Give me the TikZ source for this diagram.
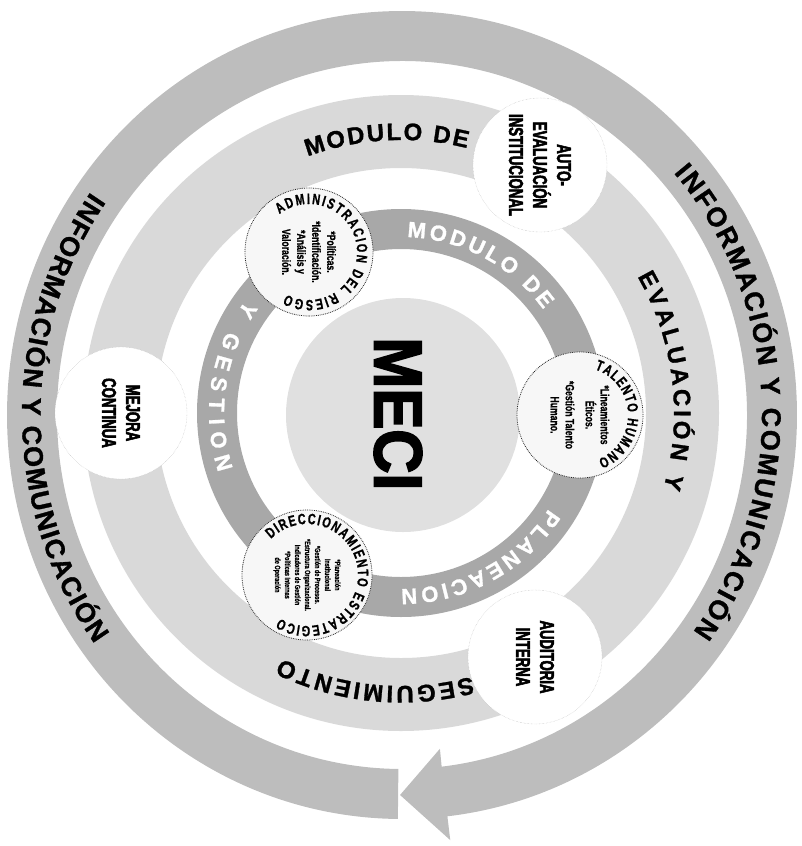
\documentclass[tikz,border=0pt]{standalone}
\usepackage{fontspec}
\setmainfont{Liberation Sans}
\newfontfamily\condfont[FakeStretch=0.72,FakeBold=0.8]{Liberation Sans}
\newfontfamily\impactfont[FakeStretch=0.66,FakeBold=2.6]{Liberation Sans}
\newfontfamily\heavyfont[FakeBold=1.2]{Liberation Sans}
\newfontfamily\mecifont[FakeStretch=0.9,FakeBold=2.5]{Liberation Sans}
\usetikzlibrary{decorations.text}

\definecolor{ringgray}{gray}{0.74}
\definecolor{bandgray}{gray}{0.85}
\definecolor{planeagray}{gray}{0.66}
\definecolor{coregray}{gray}{0.88}

\newcommand\infofont{\heavyfont\bfseries\fontsize{27}{27}\selectfont}
\newcommand\bandfont{\heavyfont\bfseries\fontsize{24}{24}\selectfont}
\newcommand\ringfont{\heavyfont\bfseries\fontsize{22}{22}\selectfont}
\newcommand\tagfont{\condfont\bfseries\fontsize{15}{15}\selectfont}

\begin{document}
\begin{tikzpicture}[x=1pt, y=1pt,
    bigcirc/.style={circle, draw=gray!55, densely dotted, fill=white, minimum size=134pt, inner sep=0pt, align=center, rotate=-90, font=\impactfont\bfseries\fontsize{20}{24}\selectfont},
    smallcirc/.style={circle, draw=black!85, densely dotted, thick, fill=gray!6, minimum size=128pt, inner sep=0pt, align=center, rotate=-90, font=\condfont\bfseries\fontsize{12}{15}\selectfont}
]

% Frame
\useasboundingbox (0,0) rectangle (801,-846);

% Informacion y comunicacion (arrow ring)
\begin{scope}[shift={(402,-415)}]
  \fill[ringgray] (269.4:395 and 404) arc[start angle=269.4, end angle=-83.4, x radius=395, y radius=404]
    -- (-83.4:420 and 428) -- (-90.3:372 and 380) -- (-83.4:330 and 336)
    -- (-83.4:345 and 354) arc[start angle=-83.4, end angle=269.4, x radius=345, y radius=354] -- cycle;
  \path[decorate, decoration={text along path, text align=fit to path, text={|\infofont|INFORMACIÓN Y COMUNICACIÓN}}]
    (41:360 and 369) arc[start angle=41, end angle=-36, x radius=360, y radius=369];
  \path[decorate, decoration={text along path, text align=fit to path, text={|\infofont|INFORMACIÓN Y COMUNICACIÓN}}]
    (145:380 and 389) arc[start angle=145, end angle=216, x radius=380, y radius=389];
\end{scope}

\begin{scope}[shift={(401,-413)}]
  % Modulo de evaluacion y seguimiento
  \fill[bandgray, even odd rule] (0,0) circle[radius=318] (0,0) circle[radius=245];
  \path[decorate, decoration={text along path, text align=fit to path, text={|\bandfont|MODULO DE}}]
    (110:273) arc[start angle=110, end angle=76, radius=273];
  \path[decorate, decoration={text along path, text align=fit to path, text={|\bandfont|EVALUACIÓN Y}}]
    (30:273) arc[start angle=30, end angle=-16, radius=273];
  \path[decorate, decoration={text along path, text align=fit to path, text={|\bandfont|SEGUIMIENTO}}]
    (-75:273) arc[start angle=-75, end angle=-116, radius=273];

  % Outer stages
  \node[bigcirc] (auto) at (139,248) {AUTO-\\EVALUACIÓN\\INSTITUCIONAL};
  \node[bigcirc, minimum size=132pt] (mejora) at (-280,0) {MEJORA\\CONTINUA};
  \node[bigcirc] (auditoria) at (134,-244) {AUDITORIA\\INTERNA};

  % Modulo de planeacion y gestion
  \fill[planeagray, even odd rule] (0,0) circle[radius=204] (0,0) circle[radius=164];
  \path[decorate, decoration={text along path, text color=white, text align=fit to path, text={|\ringfont|MODULO DE}}]
    (88:176) arc[start angle=88, end angle=36, radius=176];
  \path[decorate, decoration={text along path, text color=white, text align=fit to path, text={|\ringfont|PLANEACION}}]
    (-33:176) arc[start angle=-33, end angle=-90, radius=176];
  \path[decorate, decoration={text along path, text color=white, text align=fit to path, text={|\ringfont|Y GESTION}}]
    (144:192) arc[start angle=144, end angle=198, radius=192];

  % Core
  \fill[coregray] (2,-2) circle[radius=117];
  \node[rotate=-90, font=\mecifont\bfseries\fontsize{68}{68}\selectfont] (meci) at (-3,-1) {MECI};

  % Inner components
  \node[smallcirc] (riesgo) at (-92,161) {*Políticas.\\*Identificación.\\*Análisis y\\Valoración.};
  \node[smallcirc, minimum size=126pt] (talento) at (179,-2) {*Lineamientos\\Éticos.\\[5pt]*Gestión Talento\\Humano.};
  \node[smallcirc, minimum size=130pt, font=\condfont\bfseries\fontsize{7.6}{10}\selectfont] (direccion) at (-94,-162)
    {*Planeación\\Institucional\\*Gestión de Procesos.\\*Estructura Organizacional.\\Indicadores de Gestión\\*Políticas Internas\\de Operación};
\end{scope}

% Titles round the inner components
\begin{scope}[shift={(riesgo)}]
  \path[decorate, decoration={text along path, text align=fit to path, text={|\tagfont|ADMINISTRACION DEL RIESGO}}]
    (128:48) arc[start angle=128, end angle=-118, radius=48];
\end{scope}
\begin{scope}[shift={(talento)}]
  \path[decorate, decoration={text along path, text align=fit to path, text={|\tagfont|TALENTO HUMANO}}]
    (72:48) arc[start angle=72, end angle=-68, radius=48];
\end{scope}
\begin{scope}[shift={(direccion)}]
  \path[decorate, decoration={text along path, text align=fit to path, text={|\tagfont|DIRECCIONAMIENTO ESTRATEGICO}}]
    (135:51) arc[start angle=135, end angle=-122, radius=51];
\end{scope}

\end{tikzpicture}
\end{document}
